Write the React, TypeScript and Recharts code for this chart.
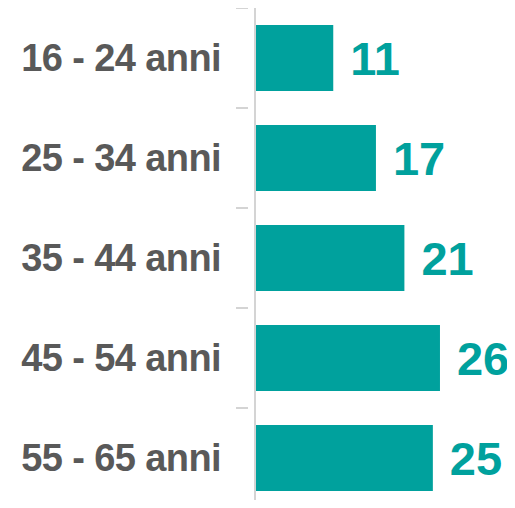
import { BarChart, Bar, XAxis, YAxis, LabelList, ReferenceLine } from 'recharts';

const ageGroups = ['16 - 24 anni', '25 - 34 anni', '35 - 44 anni', '45 - 54 anni', '55 - 65 anni'];
const shares = [11, 17, 21, 26, 25];

const data = ageGroups.map((name, i) => ({ name, value: shares[i] }));

const TEAL = '#00A19D';
const GREY_TEXT = '#595959';
const AXIS_GREY = '#D4D4D4';
const FONT = '"Liberation Sans", Arial, sans-serif';

function CategoryTick(props: any) {
    const { x, y, payload, index } = props;
    const half = 50;
    return (
        <g>
            <line x1={x - 11} x2={x + 1} y1={y - half} y2={y - half} stroke={AXIS_GREY} strokeWidth={2} />
            {index === ageGroups.length - 1 && (
                <line x1={x - 11} x2={x + 1} y1={y + half} y2={y + half} stroke={AXIS_GREY} strokeWidth={2} />
            )}
            <text
                x={x - 26}
                y={y + 13}
                textAnchor="end"
                fill={GREY_TEXT}
                fontSize={38}
                fontWeight="bold"
                letterSpacing={-0.6}
                fontFamily={FONT}
            >
                {payload.value}
            </text>
        </g>
    );
}

export default function App() {
    return (
        <div style={{ margin: -8, width: 515, height: 508, background: '#fff' }}>
            <BarChart
                width={515}
                height={508}
                data={data}
                layout="vertical"
                margin={{ top: 8, right: 11, left: 0, bottom: 0 }}
                barCategoryGap={34}
            >
                <XAxis type="number" domain={[0, 35]} hide />
                <YAxis
                    type="category"
                    dataKey="name"
                    width={255}
                    axisLine={false}
                    tickLine={false}
                    tick={<CategoryTick />}
                    interval={0}
                />
                <ReferenceLine x={0} stroke={AXIS_GREY} strokeWidth={2} />
                <Bar dataKey="value" fill={TEAL} barSize={66} isAnimationActive={false}>
                    <LabelList
                        dataKey="value"
                        content={(p: any) => (
                            <text
                                x={p.x + p.width + 17}
                                y={p.y + p.height / 2 + 17}
                                fill={TEAL}
                                fontSize={47}
                                fontWeight="bold"
                                fontFamily={FONT}
                            >
                                {p.value}
                            </text>
                        )}
                    />
                </Bar>
            </BarChart>
        </div>
    );
}
